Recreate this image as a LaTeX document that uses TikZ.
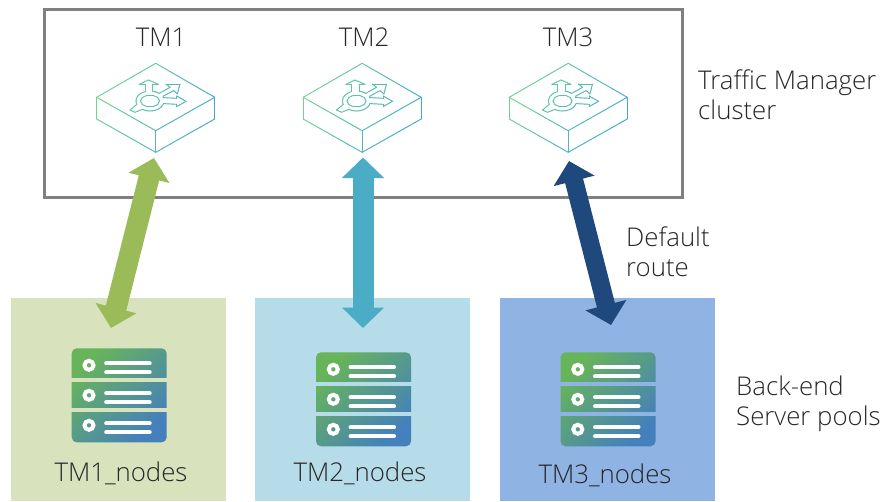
\documentclass[tikz,border=0pt]{standalone}
\usepackage{fontspec}
\setmainfont{Open Sans}[UprightFont=* Light]
\usetikzlibrary{arrows.meta}
\definecolor{iconA}{HTML}{78DC84}
\definecolor{iconB}{HTML}{3C9FDE}
\definecolor{srvA}{HTML}{68B45A}
\definecolor{srvB}{HTML}{4480BC}
\definecolor{poolA}{HTML}{D8E3BD}
\definecolor{poolB}{HTML}{B7DCE9}
\definecolor{poolC}{HTML}{8FB3E2}
\definecolor{arrA}{HTML}{9BBB59}
\definecolor{arrB}{HTML}{4BACC6}
\definecolor{arrC}{HTML}{1F497D}
\definecolor{txt}{HTML}{262626}
\tikzset{
  label text/.style={font=\fontsize{25.8}{30}\selectfont, text=txt, inner sep=0pt},
  side text/.style={label text, align=left, anchor=north west},
  pool/.style={minimum width=215pt, minimum height=203pt, inner sep=0pt, anchor=north west},
  link/.style={line width=21pt, {Triangle[length=20.5pt,width=41pt]}-{Triangle[length=20.5pt,width=41pt]}},
  glow/.style={line width=.95pt, line cap=round},
}
% gradient stroked straight piece, local icon coordinates
\newcommand\gline[5][8]{%
  \foreach \gi in {1,...,#1}{%
    \pgfmathsetmacro\gxa{#2+(#4-#2)*(\gi-1)/#1}%
    \pgfmathsetmacro\gya{#3+(#5-#3)*(\gi-1)/#1}%
    \pgfmathsetmacro\gxb{#2+(#4-#2)*\gi/#1}%
    \pgfmathsetmacro\gyb{#3+(#5-#3)*\gi/#1}%
    \pgfmathsetmacro\gmix{min(100,max(0,100*(59+0.5*(\gxa+\gxb)+0.25*(\gya+\gyb))/162))}%
    \draw[glow, draw=iconB!\gmix!iconA] (\gxa,\gya) -- (\gxb,\gyb);%
  }%
}
\newcommand\gpoly[1]{%
  \foreach \px/\py [count=\pn, remember=\px as \qx (initially 0), remember=\py as \qy (initially 0)] in {#1}{%
    \ifnum\pn>1 \gline[3]{\qx}{\qy}{\px}{\py}\fi
  }%
}
\newcommand\garc[6]{%
  \foreach \ai in {1,...,10}{%
    \pgfmathsetmacro\aa{#5+(#6-#5)*(\ai-1)/10}%
    \pgfmathsetmacro\ab{#5+(#6-#5)*\ai/10}%
    \pgfmathsetmacro\axa{#1+#3*cos(\aa)}%
    \pgfmathsetmacro\aya{#2+#4*sin(\aa)}%
    \pgfmathsetmacro\axb{#1+#3*cos(\ab)}%
    \pgfmathsetmacro\ayb{#2+#4*sin(\ab)}%
    \gline[1]{\axa}{\aya}{\axb}{\ayb}%
  }%
}
\newcommand\tmicon[2]{%
  \begin{scope}[shift={(#1,#2)}]
    \gline{0}{0}{-59}{34}\gline{0}{0}{59}{34}
    \gline{-59}{34}{0}{67.4}\gline{59}{34}{0}{67.4}
    \gline[3]{-59}{34}{-59}{55.7}\gline[3]{59}{34}{59}{55.7}\gline[3]{0}{67.4}{0}{89}
    \gline{-59}{55.7}{0}{89}\gline{59}{55.7}{0}{89}
    \garc{-5.7}{37.7}{9.5}{6}{0}{360}
    \garc{-5.7}{37.7}{14}{10}{160}{249}
    \garc{-5.7}{37.7}{14}{10}{-79}{-48}
    \garc{-5.7}{37.7}{14}{10}{15}{123}
    \gpoly{-10.7/28.4,-10.7/21,-16.3/21,-7.3/16.7,2.7/21,-3/21,-3/27.9}
    \gpoly{3.7/30,14.3/24,10.3/20.7,24.3/20.7,21.7/30.7,18/27.3,7.7/32.7,7.5/34.3}
    \gpoly{7.5/34.3,21/35,21/32.7,30.3/38,21/43.3,21/41,7.8/40.3}
    \gpoly{-18.9/41.1,-25.7/46.7,-20.7/49,-13.3/46.1}
  \end{scope}%
}
\newcommand\srvicon[3]{%
  \begin{scope}[shift={(#1,#2)}]
    \shade[rounded corners=5pt, left color=srvA, right color=srvB, shading angle=45] (0,0) rectangle (95,94);
    \fill[#3] (-1,30) rectangle (96,34);
    \fill[#3] (-1,60) rectangle (96,64);
    \foreach \ry in {0,30,60}{
      \draw[white, line width=4pt] (17.3,17+\ry) circle (4.5);
      \draw[white, line width=4pt, line cap=round] (34.5,15+\ry) -- (78,15+\ry);
      \draw[white, line width=4pt, line cap=round] (34.5,24+\ry) -- (78,24+\ry);
    }
  \end{scope}%
}
\begin{document}
\begin{tikzpicture}[x=1pt,y=-1pt]
\useasboundingbox (0,0) rectangle (885,501);
% cluster frame
\node[draw=black!50, line width=3pt, minimum width=638pt, minimum height=188pt, inner sep=0pt, anchor=north west] (cluster) at (42.5,7.5) {};
\node[label text] (t1) at (161,37) {TM1};
\node[label text] (t2) at (364,37) {TM2};
\node[label text] (t3) at (568,37) {TM3};
\tmicon{155.7}{63.3}
\tmicon{362.2}{63.3}
\tmicon{568.2}{63.3}
\coordinate (tm1) at (154,158);
\coordinate (tm2) at (363,157.5);
\coordinate (tm3) at (569,161);
% pools
\node[pool, fill=poolA] (pool1) at (11,298) {};
\node[pool, fill=poolB] (pool2) at (255,298) {};
\node[pool, fill=poolC] (pool3) at (500,298) {};
\srvicon{71.7}{348.3}{poolA}
\srvicon{316}{352.3}{poolB}
\srvicon{560.5}{352.3}{poolC}
\node[label text] (n1) at (121,473) {TM1\_nodes};
\node[label text] (n2) at (360,473) {TM2\_nodes};
\node[label text] (n3) at (605,475) {TM3\_nodes};
\coordinate (p1) at (111,328);
\coordinate (p2) at (363,328);
\coordinate (p3) at (611,325);
% links
\draw[link, draw=arrA, fill=arrA] (tm1) -- (p1);
\draw[link, draw=arrB, fill=arrB] (tm2) -- (p2);
\draw[link, line width=18.5pt, draw=arrC, fill=arrC] (tm3) -- (p3);
% side labels
\node[side text] (l1) at (698,70) {Traffic Manager\\cluster};
\node[side text] (l2) at (626,227) {Default\\route};
\node[side text] (l3) at (736,376) {Back-end\\Server pools};
\end{tikzpicture}
\end{document}
